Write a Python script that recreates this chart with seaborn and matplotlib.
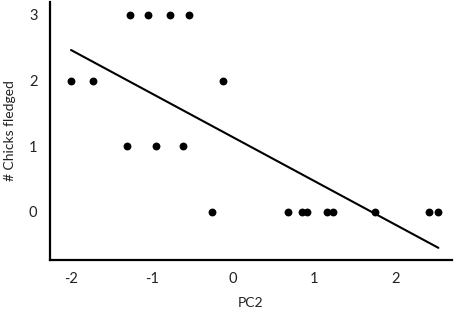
import numpy as np
import pandas as pd
import matplotlib
matplotlib.use('Agg')
import matplotlib.pyplot as plt
import seaborn as sns

# PC2 scores grouped by number of chicks fledged
pc2_three = [-1.27, -1.05, -0.78, -0.54]
pc2_two = [-2.00, -1.73, -0.12]
pc2_one = [-1.31, -0.95, -0.62]
pc2_zero = [-0.26, 0.67, 0.85, 0.91, 1.16, 1.23, 1.75, 2.41, 2.53]

x_ticks = [-2, -1, 0, 1, 2]
y_ticks = [0, 1, 2, 3]

df = pd.DataFrame({
    'PC2': pc2_three + pc2_two + pc2_one + pc2_zero,
    'Chicks': [3] * len(pc2_three) + [2] * len(pc2_two)
              + [1] * len(pc2_one) + [0] * len(pc2_zero),
})

sns.set_style('white')
plt.rcParams['font.family'] = ['Lato', 'DejaVu Sans']
plt.rcParams['axes.unicode_minus'] = False

fig = plt.figure(figsize=(4.54, 3.09), dpi=100)
ax = fig.add_axes([0.110, 0.159, 0.886, 0.835])

sns.regplot(data=df, x='PC2', y='Chicks', ax=ax, ci=None, truncate=True,
            scatter_kws={'s': 32, 'color': 'black', 'linewidths': 0, 'alpha': 1},
            line_kws={'color': 'black', 'linewidth': 1.5})

ax.set_xlim(-2.26, 2.70)
ax.set_ylim(-0.73, 3.2)
ax.set_xticks(x_ticks)
ax.set_yticks(y_ticks)
ax.tick_params(length=0, labelsize=10.5, labelcolor='#222222')
ax.tick_params(axis='x', pad=9)
ax.tick_params(axis='y', pad=9)
ax.set_xlabel('PC2', fontsize=10, labelpad=8, color='#222222')
ax.set_ylabel('# Chicks fledged', fontsize=10, labelpad=9, color='#222222')

for side in ['top', 'right']:
    ax.spines[side].set_visible(False)
for side in ['left', 'bottom']:
    ax.spines[side].set_color('black')
    ax.spines[side].set_linewidth(1.6)

fig.savefig('out.png', dpi=100)
